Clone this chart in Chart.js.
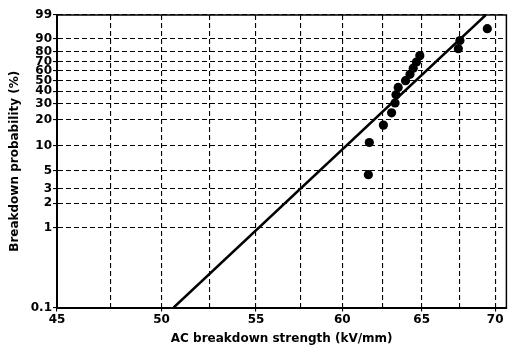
<!DOCTYPE html>
<html>
<head>
<meta charset="utf-8">
<script src="https://cdn.jsdelivr.net/npm/chart.js@4/dist/chart.umd.min.js"></script>
<style>
  html, body { margin: 0; padding: 0; background: #fff; }
  #wrap { width: 511px; height: 351px; position: relative; }
</style>
</head>
<body>
<div id="wrap"><canvas id="weibullChart"></canvas></div>
<script>
// measured breakdown points (kV/mm) and their median-rank probability (%)
const strength = [61.60, 61.66, 62.54, 63.06, 63.28, 63.34, 63.48, 63.95, 64.24, 64.45, 64.66, 64.88, 67.45, 67.56, 69.45];
const probability = [4.5, 11.0, 17.5, 24.0, 30.5, 37.0, 43.5, 50.0, 56.5, 63.0, 69.5, 76.0, 82.5, 89.0, 95.5];

// fitted Weibull line, end points
const fitStrength = [50.62, 69.34];
const fitProbability = [0.1, 99];

const xTicks = [45, 47.5, 50, 52.5, 55, 57.5, 60, 62.5, 65, 67.5, 70];
const yTicks = [0.1, 1, 2, 3, 5, 10, 20, 30, 40, 50, 60, 70, 80, 90, 99];
const yTickLabels = ["0.1", "1", "2", "3", "5", "10", "20", "30", "40", "50", "60", "70", "80", "90", "99"];

// weibull probability paper: ln(-ln(1-F))
function wb(p) {
  return Math.log(-Math.log(1 - p / 100));
}

const tickFont = { family: "DejaVu Sans", size: 12, weight: "bold" };
const titleFont = { family: "DejaVu Sans", size: 12, weight: "bold" };

const frame = {
  id: "frame",
  afterDraw(chart) {
    const a = chart.chartArea;
    const c = chart.ctx;
    c.save();
    c.strokeStyle = "#000";
    c.lineWidth = 1.5;
    c.beginPath();
    c.moveTo(a.left, a.top);
    c.lineTo(a.right, a.top);
    c.lineTo(a.right, a.bottom);
    c.stroke();
    c.restore();
  }
};

const ctx = document.getElementById("weibullChart").getContext("2d");

new Chart(ctx, {
  type: "scatter",
  data: {
    datasets: [
      {
        label: "Fit",
        data: fitStrength.map((x, i) => ({ x: x, y: wb(fitProbability[i]) })),
        showLine: true,
        borderColor: "#000",
        borderWidth: 2.5,
        pointRadius: 0,
        fill: false
      },
      {
        label: "Data",
        data: strength.map((x, i) => ({ x: x, y: wb(probability[i]) })),
        backgroundColor: "#000",
        borderColor: "#000",
        pointRadius: 4.6,
        pointBorderWidth: 0
      }
    ]
  },
  options: {
    responsive: true,
    maintainAspectRatio: false,
    animation: false,
    layout: {
      padding: { top: 15, right: 2, left: 0, bottom: 0 }
    },
    plugins: {
      legend: { display: false },
      tooltip: { enabled: false }
    },
    scales: {
      x: {
        type: "logarithmic",
        min: 45,
        max: 70.8,
        afterBuildTicks: function(scale) {
          scale.ticks = xTicks.map(v => ({ value: v }));
        },
        afterFit: function(scale) {
          scale.height = 43.5;
        },
        ticks: {
          autoSkip: false,
          maxRotation: 0,
          padding: 1,
          color: "#000",
          font: tickFont,
          callback: function(value) {
            return value % 5 === 0 ? String(value) : "";
          }
        },
        grid: {
          color: "#000",
          lineWidth: 1.1,
          tickLength: 4,
          tickBorderDash: [],
          tickColor: function(c) {
            return c.tick && c.tick.value % 5 === 0 ? "#000" : "rgba(0,0,0,0)";
          }
        },
        border: {
          color: "#000",
          width: 2,
          dash: [5, 3]
        },
        title: {
          display: true,
          text: "AC breakdown strength (kV/mm)",
          color: "#000",
          font: titleFont,
          padding: { top: 5, bottom: 5 }
        }
      },
      y: {
        type: "linear",
        min: wb(0.1),
        max: wb(99),
        afterBuildTicks: function(scale) {
          scale.ticks = yTicks.map(p => ({ value: wb(p) }));
        },
        afterFit: function(scale) {
          scale.width = 57;
        },
        ticks: {
          autoSkip: false,
          padding: 1,
          color: "#000",
          font: tickFont,
          callback: function(value, index) {
            return yTickLabels[index];
          }
        },
        grid: {
          color: "#000",
          lineWidth: 1.1,
          tickLength: 4,
          tickBorderDash: [],
          tickColor: "#000"
        },
        border: {
          color: "#000",
          width: 2,
          dash: [5, 3]
        },
        title: {
          display: true,
          text: "Breakdown probability (%)",
          color: "#000",
          font: titleFont,
          padding: { top: 8, bottom: 8 }
        }
      }
    }
  },
  plugins: [frame]
});
</script>
</body>
</html>
